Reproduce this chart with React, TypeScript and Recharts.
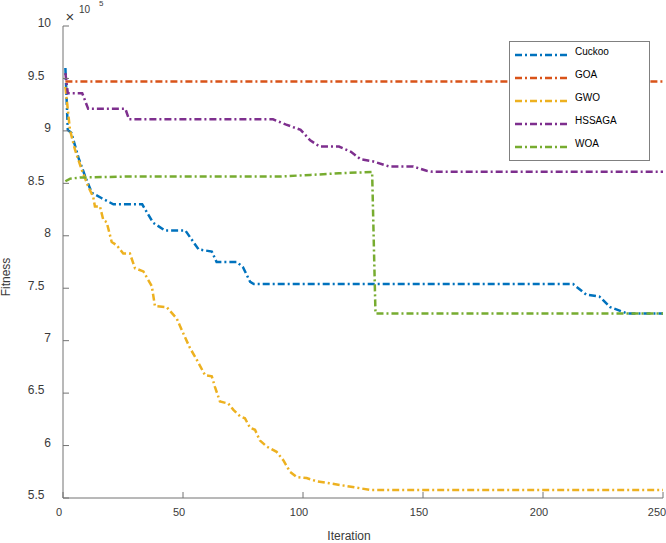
import React from "react";
import { LineChart, Line, XAxis, YAxis, Legend } from "recharts";

const iterTicks = [0, 50, 100, 150, 200, 250];
const fitnessTicks = [5.5, 6, 6.5, 7, 7.5, 8, 8.5, 9, 9.5, 10];

// fitness values are in units of 1e5
const cuckooIter = [1, 2, 3.5, 6.5, 9.5, 12, 16, 21, 33, 37.5, 42.5, 51, 56.5, 62, 64, 72.5, 75, 78, 79.5, 212.5, 218, 223.5, 228, 235, 250];
const cuckooFit = [9.6, 9.01, 8.98, 8.74, 8.55, 8.41, 8.36, 8.3, 8.3, 8.125, 8.05, 8.05, 7.87, 7.85, 7.75, 7.75, 7.7, 7.56, 7.54, 7.54, 7.44, 7.42, 7.32, 7.26, 7.26];

const goaIter = [1, 250];
const goaFit = [9.47, 9.47];

const gwoIter = [1, 2.9, 5, 7.8, 10.5, 12.6, 13.3, 15.4, 16.8, 18.2, 20.3, 22.4, 25.1, 27.9, 30, 33.5, 37, 38.3, 43.2, 47.4, 50.1, 52.9, 55.7, 59.2, 62, 63.3, 65.4, 68.9, 71, 73.75, 75.8, 77.9, 80, 82, 84.9, 89, 91.8, 94.6, 97.4, 101.5, 105.7, 111, 118, 123.75, 128, 250];
const gwoFit = [9.42, 9.01, 8.82, 8.63, 8.47, 8.37, 8.28, 8.28, 8.15, 8.13, 7.94, 7.91, 7.83, 7.83, 7.69, 7.66, 7.52, 7.33, 7.32, 7.21, 7.07, 6.93, 6.82, 6.67, 6.66, 6.56, 6.42, 6.4, 6.34, 6.28, 6.26, 6.17, 6.15, 6.05, 5.99, 5.94, 5.86, 5.75, 5.7, 5.69, 5.66, 5.64, 5.615, 5.593, 5.577, 5.577];

const hssagaIter = [1, 2, 8, 10.5, 26, 27.5, 87.5, 93, 99, 103, 107, 115, 120, 124, 129, 136, 146, 151.5, 154, 250];
const hssagaFit = [9.55, 9.36, 9.36, 9.21, 9.21, 9.11, 9.11, 9.06, 9.01, 8.91, 8.85, 8.85, 8.8, 8.73, 8.71, 8.66, 8.66, 8.62, 8.61, 8.61];

const woaIter = [1, 3, 7, 27, 90, 103, 115, 128.8, 130.2, 250];
const woaFit = [8.52, 8.545, 8.555, 8.565, 8.565, 8.58, 8.596, 8.608, 7.26, 7.26];

const toPoints = (its: number[], vals: number[]) => its.map((it, i) => ({ it, fit: vals[i] }));

const series = [
  { name: "Cuckoo", color: "#0072BD", data: toPoints(cuckooIter, cuckooFit) },
  { name: "GOA", color: "#D95319", data: toPoints(goaIter, goaFit) },
  { name: "GWO", color: "#EDB120", data: toPoints(gwoIter, gwoFit) },
  { name: "HSSAGA", color: "#7E2F8E", data: toPoints(hssagaIter, hssagaFit) },
  { name: "WOA", color: "#77AC30", data: toPoints(woaIter, woaFit) },
];

const FONT = '"Liberation Sans", Arial, sans-serif';
const AXIS = "#737373";
const TEXT = "#3a3a3a";
const DASH = "7 3 2 3";

const YTick = (props: any) => {
  const { x, y, payload } = props;
  const v = payload.value as number;
  const shift = Number.isInteger(v) ? 0 : -6.5;
  return (
    <text x={x + shift} y={y - 3} dy="0.36em" textAnchor="end" fontSize={12} fontFamily={FONT} fill={TEXT}>
      {v}
    </text>
  );
};

const XTick = (props: any) => {
  const { x, y, payload } = props;
  // the last label sits against the right edge, as in the original
  const shift = payload.value === 250 ? -6 : -4;
  return (
    <text x={x + shift} y={y} dy="0.71em" textAnchor="middle" fontSize={11} fontFamily={FONT} fill={TEXT}>
      {payload.value}
    </text>
  );
};

const LegendBox = (props: any) => {
  const items = props.payload || [];
  return (
    <div style={{ width: 139, height: 118, border: "1px solid #808080", background: "#fff" }}>
      <svg width={139} height={118}>
        {items.map((p: any, i: number) => {
          const y = 13 + i * 23;
          return (
            <g key={p.value}>
              <line x1={5} x2={60} y1={y} y2={y} stroke={p.color} strokeWidth={2.5} strokeDasharray={DASH} />
              <text x={65} y={y} fontSize={10} fontFamily={FONT} fill="#000">
                {p.value}
              </text>
            </g>
          );
        })}
      </svg>
    </div>
  );
};

export default function App() {
  return (
    <div style={{ position: "absolute", left: 0, top: 0, width: 666, height: 543, background: "#fff" }}>
      <LineChart width={666} height={543} margin={{ top: 26, right: 3, bottom: 15, left: 0 }}>
        <XAxis
          dataKey="it"
          type="number"
          domain={[0, 250]}
          ticks={iterTicks}
          interval={0}
          allowDataOverflow
          height={30}
          tickSize={-6}
          tickMargin={16}
          axisLine={{ stroke: AXIS }}
          tickLine={{ stroke: AXIS }}
          tick={<XTick />}
        />
        <XAxis
          xAxisId="top"
          orientation="top"
          type="number"
          domain={[0, 250]}
          ticks={iterTicks}
          interval={0}
          height={0}
          tickSize={-6}
          axisLine={{ stroke: AXIS }}
          tickLine={{ stroke: AXIS }}
          tick={false}
        />
        <YAxis
          type="number"
          domain={[5.5, 10]}
          ticks={fitnessTicks}
          interval={0}
          allowDataOverflow
          width={63}
          tickSize={-6}
          tickMargin={18}
          axisLine={{ stroke: AXIS }}
          tickLine={{ stroke: AXIS }}
          tick={<YTick />}
        />
        <YAxis
          yAxisId="r"
          orientation="right"
          type="number"
          domain={[5.5, 10]}
          ticks={fitnessTicks}
          interval={0}
          width={0}
          tickSize={-6}
          axisLine={{ stroke: AXIS }}
          tickLine={{ stroke: AXIS }}
          tick={false}
        />
        <Legend
          layout="vertical"
          align="center"
          verticalAlign="middle"
          content={<LegendBox />}
          wrapperStyle={{ left: 509, top: 41, width: 141 }}
        />
        {series.map((s) => (
          <Line
            key={s.name}
            name={s.name}
            data={s.data}
            dataKey="fit"
            type="linear"
            stroke={s.color}
            strokeWidth={2.5}
            strokeDasharray={DASH}
            dot={false}
            activeDot={false}
            isAnimationActive={false}
          />
        ))}
      </LineChart>
      <svg width={666} height={543} style={{ position: "absolute", left: 0, top: 0, pointerEvents: "none" }}>
        <text transform="translate(10,277) rotate(-90)" textAnchor="middle" fontSize={12} fontFamily={FONT} fill={TEXT}>
          Fitness
        </text>
        <text x={349} y={540} textAnchor="middle" fontSize={12} fontFamily={FONT} fill={TEXT}>
          Iteration
        </text>
        <text x={70} y={21.5} textAnchor="middle" fontSize={15} fontFamily={FONT} fill={TEXT}>
          ×
        </text>
        <text x={79} y={13} fontSize={10} fontFamily={FONT} fill={TEXT}>
          10
        </text>
        <text x={99} y={6} fontSize={8} fontFamily={FONT} fill={TEXT}>
          5
        </text>
      </svg>
    </div>
  );
}
